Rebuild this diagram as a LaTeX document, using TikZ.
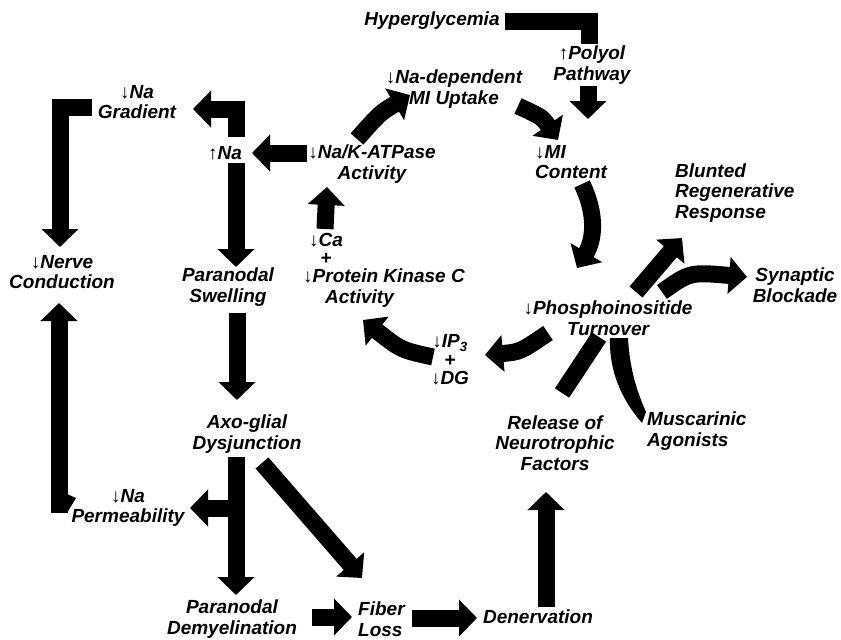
\documentclass[tikz,border=0pt]{standalone}
\usepackage{fontspec}
\setmainfont{Liberation Sans}
\usepackage{tikz}
\usetikzlibrary{arrows.meta,calc}
\newcommand{\decr}{{\mdseries\upshape ↓}}
\newcommand{\incr}{{\mdseries\upshape ↑}}
\tikzset{
  lbl/.style={font=\bfseries\itshape\fontsize{19}{20.5}\selectfont, align=center,
              inner sep=2pt},
  fat/.style={line width=17pt, -{Triangle[length=18pt,width=36pt]}},
  bar/.style={line width=17pt},
}

\begin{document}
\begin{tikzpicture}[x=1pt,y=-1pt]
  \useasboundingbox (0,0) rectangle (841,640);

  % Labels
  \node[lbl] (hyper)  at (432,21)  {Hyperglycemia};
  \node[lbl] (polyol) at (592,65)  {\incr Polyol\\Pathway};
  \node[lbl] (nadep)  at (454,89)  {\decr Na-dependent\\MI Uptake};
  \node[lbl, anchor=west, align=left] (micontent) at (533,162) {\decr MI\\Content};
  \node[lbl] (nak)    at (372,164) {\decr Na/K-ATPase\\Activity};
  \node[lbl] (na)     at (225,153) {\incr Na};
  \node[lbl] (nagrad) at (137,102) {\decr Na\\Gradient};
  \node[lbl] (nerve)  at (62,272)  {\decr Nerve\\Conduction};
  \node[lbl] (swell)  at (228,287) {Paranodal\\Swelling};
  \node[lbl] (ca)     at (326,249) {\decr Ca\\[-2.5pt]+};
  \node[lbl, anchor=west, align=left] (pkc) at (301,288) {\decr Protein Kinase C\\\hspace*{22pt}Activity};
  \node[lbl] (ipdg)   at (450,360) {\decr IP\textsubscript{3}\\[-2pt]+\\[-2pt]\decr DG};
  \node[lbl] (phospho) at (608,318) {\decr Phosphoinositide\\Turnover};
  \node[lbl, anchor=west, align=left] (blunted) at (673,193) {Blunted\\Regenerative\\Response};
  \node[lbl] (synaptic) at (795,285) {Synaptic\\Blockade};
  \node[lbl] (release) at (555,443) {Release of\\Neurotrophic\\Factors};
  \node[lbl, anchor=west, align=left] (musc) at (645,431) {Muscarinic\\Agonists};
  \node[lbl] (axo)    at (247,434) {Axo-glial\\Dysjunction};
  \node[lbl] (perm)   at (128,508) {\decr Na\\Permeability};
  \node[lbl] (demy)   at (232,619) {Paranodal\\Demyelination};
  \node[lbl, anchor=west, align=left] (fiber) at (356,619) {Fiber\\Loss};
  \node[lbl] (denerv) at (538,617) {Denervation};

  % Polyol pathway into the MI cycle
  \draw[bar] ($(hyper)+(73,0)$) -| ($(polyol)+(-3,-21)$);
  \draw[fat] ($(polyol)+(-4,21)$) -- ($(micontent.west)+(55,-43)$);
  \draw[fat] ($(nadep)+(64,17)$) .. controls ($(nadep)+(88,28)$) .. ($(micontent.west)+(25,-22)$);
  \draw[fat] ($(nak)+(-15,-25)$) .. controls ($(nak)+(8,-51)$) .. ($(nadep)+(-44,6)$);
  \draw[fat] ($(micontent.west)+(49,22)$) .. controls ($(micontent.west)+(64,53)$) and ($(micontent.west)+(61,78)$) .. ($(phospho)+(-31,-50)$);
  \draw[fat] ($(phospho)+(-60,15)$) .. controls ($(phospho)+(-88,34)$) .. ($(ipdg)+(35,-5)$);
  \draw[fat] ($(ipdg)+(-17,-3)$) .. controls ($(ipdg)+(-49,-10)$) .. ($(pkc.west)+(62,32)$);
  \draw[fat] ($(ca)+(-1,-20)$) -- ($(nak)+(-45,23)$);

  % Sodium branch
  \draw[fat] ($(nak)+(-65,-11)$) -- ($(na)+(27,0)$);
  \draw[fat] ($(na)+(11,-16)$) |- ($(nagrad)+(56,7)$);
  \draw[fat] ($(nagrad)+(-45,5)$) -| ($(nerve)+(-2,-25)$);
  \draw[fat] ($(perm)+(-69,5)$) -- ($(nerve)+(-3,31)$);
  \fill ($(perm)+(-61,-14)$) -- ($(perm)+(-52,-10)$) -- ($(perm)+(-61,5)$) -- cycle;
  \draw[fat] ($(na)+(11,10)$) -- ($(swell)+(8,-20)$);
  \draw[fat] ($(swell)+(9,26)$) -- ($(axo)+(-10,-34)$);

  % Fiber damage
  \draw[fat] ($(axo)+(-11,23)$) -- ($(demy)+(4,-24)$);
  \draw[fat] ($(axo)+(-11,74)$) -- ($(perm)+(62,0)$);
  \draw[fat] ($(axo)+(15,29)$) -- ($(fiber.west)+(6,-41)$);
  \draw[fat] ($(demy)+(80,-2)$) -- ($(fiber.west)+(-4,-2)$);
  \draw[fat] ($(fiber.west)+(56,-1)$) -- ($(denerv)+(-61,1)$);
  \draw[fat] ($(denerv)+(8,-10)$) -- ($(release)+(-9,49)$);

  % Phosphoinositide outputs
  \draw[fat] ($(phospho)+(28,-26)$) -- ($(blunted.west)+(9,45)$);
  \draw[fat] ($(phospho)+(54,-26)$) .. controls ($(phospho)+(82,-46)$) .. ($(synaptic)+(-48,-8)$);
  \draw[bar] ($(release)+(7,-50)$) -- ($(phospho)+(-9,19)$);
  \fill[shift={(phospho)}] (2,20) -- (20,20) .. controls (22,57) and (32,80) .. (38,94)
    -- (34,105) .. controls (14,82) and (1,54) .. cycle;

\end{tikzpicture}
\end{document}
